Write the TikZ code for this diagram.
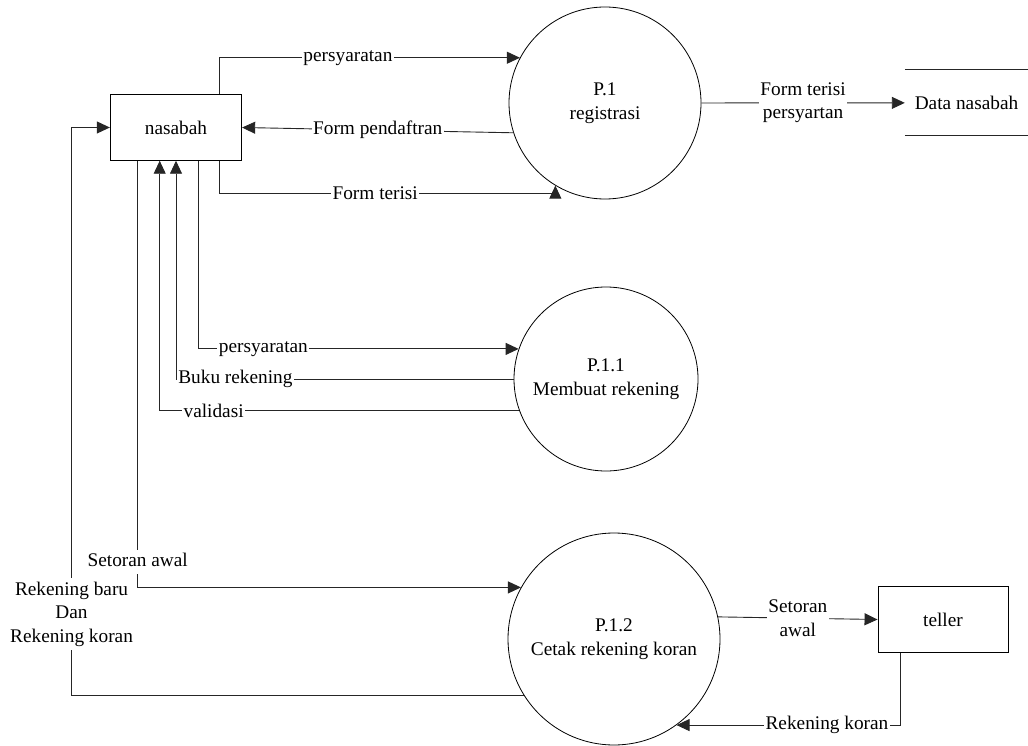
\documentclass[tikz,border=0pt]{standalone}
\usepackage{fontspec}
\setmainfont{Liberation Serif}
\usetikzlibrary{arrows.meta}
\begin{document}
\begin{tikzpicture}[x=1pt,y=-1pt,
  every node/.style={font=\fontsize{19.3}{23.5}\selectfont},
  entity/.style={draw, line width=0.9pt, inner sep=0pt, minimum height=65.6pt},
  process/.style={circle, draw, line width=0.8pt, align=center, inner sep=0pt},
  plain/.style={draw=black!85, line width=0.9pt},
  flow/.style={draw=black!85, line width=0.9pt, -{Triangle[length=13pt,width=12pt]}},
  lbl/.style={fill=white, inner xsep=1.5pt, inner ysep=0.5pt, align=center}
]
\useasboundingbox (0,0) rectangle (1028,746);

% external entities
\node[entity, minimum width=131.4pt] (nasabah) at (176,127.5) {nasabah};
\node[entity, minimum width=130pt] (teller) at (943,619.5) {teller};

% processes
\node[process, minimum size=192pt] (p1) at (605,103) {P.1\\registrasi};
\node[process, minimum size=184pt] (p11) at (606,379) {P.1.1\\Membuat rekening};
\node[process, minimum size=212pt] (p12) at (614,639) {P.1.2\\Cetak rekening koran};

% data store
\node[inner sep=0pt, minimum width=123pt, minimum height=65.7pt] (store) at (966.5,102.85) {Data nasabah};
\draw[plain] (store.north west) -- (store.north east);
\draw[plain] (store.south west) -- (store.south east);

% flows around P.1
\draw[flow] ([xshift=43.3pt]nasabah.north) |- (p1.152)
  node[lbl, pos=0.714] {persyaratan};
\draw[flow] (p1.198) -- (nasabah.east)
  node[lbl, pos=0.5] {Form pendaftran};
\draw[flow] ([xshift=43.3pt]nasabah.south) |- (p1.239 |- 0,193.3)
  node[lbl, pos=0.732] {Form terisi} -- (p1.239);
\draw[flow] (p1) -- (store)
  node[lbl, pos=0.5] {Form terisi\\persyartan};

% flows around P.1.1
\draw[flow] ([xshift=22pt]nasabah.south) |- (p11.161)
  node[lbl, pos=0.602] {persyaratan};
\draw[flow] (p11.180) -| (nasabah.south)
  node[lbl, pos=0.412] {Buku rekening};
\draw[flow] (p11.200) -| ([xshift=-16.3pt]nasabah.south)
  node[lbl, pos=0.425] {validasi};

% flows around P.1.2
\draw[flow] ([xshift=-38.3pt]nasabah.south) |- (p12.151)
  node[lbl, pos=0.4704] {Setoran awal\strut};
\draw[flow] (p12.212) -| ([xshift=-38.3pt]nasabah.west)
  node[lbl, pos=0.5715] {Rekening baru\strut\\Dan\strut\\Rekening koran\strut}
  -- (nasabah.west);
\draw[flow] (p12.12) -- (teller.west)
  node[lbl, pos=0.5] {Setoran\\awal};
\draw[flow] ([xshift=-42.6pt]teller.south) |- (p12.306)
  node[lbl, pos=0.664] {Rekening koran};
\end{tikzpicture}
\end{document}
